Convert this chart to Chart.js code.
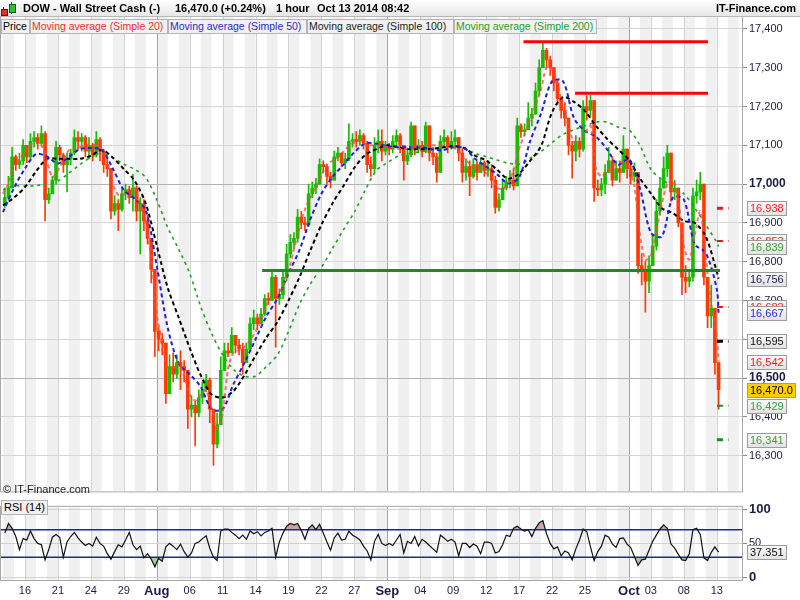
<!DOCTYPE html>
<html>
<head>
<meta charset="utf-8">
<title>DOW - Wall Street Cash</title>
<script src="https://cdn.jsdelivr.net/npm/chart.js@4.4.1/dist/chart.umd.min.js"></script>
<style>
html,body{margin:0;padding:0;background:#fff;}
body{width:800px;height:600px;position:relative;overflow:hidden;font-family:"Liberation Sans",Arial,sans-serif;}
canvas{position:absolute;left:0;}
#cMain{top:0;}
#cRsi{top:497px;}
.hdr{position:absolute;left:0;top:0;width:800px;height:16px;background:linear-gradient(#ffffff,#e6e6e6);border-bottom:1px solid #b8b8b8;z-index:2;}
.ht{position:absolute;top:2px;font-weight:bold;font-size:11px;color:#000;white-space:nowrap;line-height:13px;z-index:3;}
.lg{position:absolute;top:19px;height:15px;line-height:13px;font-size:10.5px;background:#f1f1f1;border:1px solid #b4b4b4;padding:0 1px;white-space:nowrap;z-index:2;box-sizing:border-box;overflow:hidden;}
.ic{position:absolute;z-index:3;}
.copy{position:absolute;left:3px;top:483px;font-size:11px;color:#222;z-index:2;white-space:nowrap;}
.rsil{position:absolute;left:1px;top:500px;height:15px;line-height:13px;font-size:11px;background:#f1f1f1;border:1px solid #b4b4b4;padding:0 2px;z-index:2;box-sizing:border-box;}
</style>
</head>
<body>
<div class="hdr"></div>
<div class="ic" style="left:3px;top:7px;width:1px;height:8px;background:#a00;"></div>
<div class="ic" style="left:1px;top:9px;width:5px;height:5px;background:#e03030;border:1px solid #900;"></div>
<div class="ic" style="left:11px;top:2px;width:1px;height:12px;background:#060;"></div>
<div class="ic" style="left:9px;top:4px;width:5px;height:7px;background:#30c030;border:1px solid #060;"></div>
<div class="ht" style="left:23px;">DOW - Wall Street Cash (-)</div>
<div class="ht" style="left:175px;">16,470.0 (+0.24%)</div>
<div class="ht" style="left:276px;">1 hour</div>
<div class="ht" style="left:317px;">Oct 13 2014 08:42</div>
<div class="ht" style="right:4px;">IT-Finance.com</div>

<div class="lg" style="left:1px;width:29px;color:#000;">Price</div>
<div class="lg" style="left:30px;width:138px;color:#ff2a2a;">Moving average (Simple 20)</div>
<div class="lg" style="left:168px;width:139px;color:#2a2ad0;">Moving average (Simple 50)</div>
<div class="lg" style="left:307px;width:147px;color:#222;">Moving average (Simple 100)</div>
<div class="lg" style="left:454px;width:143px;color:#1ea01e;">Moving average (Simple 200)</div>

<div class="copy">© IT-Finance.com</div>
<div class="rsil">RSI (14)</div>

<canvas id="cMain" width="800" height="500"></canvas>
<canvas id="cRsi" width="800" height="103"></canvas>

<script>
// ---------------- DATA ----------------
// trading days from Jul 14 2014 (day 0) to Oct 13 2014 (day 65)
const tickDays   = [2, 5, 8, 11, 14, 17, 20, 23, 26, 29, 32, 35, 38, 41, 44, 47, 50, 53, 57, 59, 62, 65];
const tickLabels = ['16','21','24','29','Aug','06','11','14','19','22','27','Sep','04','09','12','17','22','25','Oct','03','08','13'];
const monthTicks = ['Aug','Sep','Oct'];

const priceTicks = [16300,16400,16500,16600,16700,16800,16900,17000,17100,17200,17300,17400];
const boldPriceTicks = [16500, 17000];
const rsiTicks = [0, 50, 100];
const rsiLevels = [70, 30];

// price bars (three 8-hour bars per trading day), open = previous close
const firstOpen = 16950;
const closes = [
16965,16990,17070, 17050,17060,17100, 17070,17110,17120, 17105,17130,16960, 16975,17010,17095,
17075,17050,17065, 17080,17120,17110, 17120,17085,17100, 17075,17115,17085, 17050,17040,16930,
16950,16935,16975, 16985,16965,16990, 16930,16950,16905, 16860,16780,16620, 16600,16590,16460,
16530,16510,16540, 16530,16520,16420, 16430,16410,16450, 16470,16495,16420, 16330,16380,16520,
16570,16565,16610, 16585,16575,16540, 16575,16640,16655, 16640,16665,16705, 16700,16760,16705,
16715,16760,16820, 16850,16860,16915, 16900,16895,16975, 16990,17000,17050, 17045,17020,17010,
17070,17080,17055, 17065,17110,17115, 17110,17125,17105, 17050,17040,17100, 17110,17085,17095,
17090,17110,17125, 17100,17060,17075, 17150,17090,17100, 17085,17150,17080, 17070,17030,17110,
17120,17095,17110, 17120,17080,17030, 17045,17020,17050, 17030,17055,17035, 17040,17010,16940,
16960,16990,17005, 17010,16995,17150, 17135,17140,17170, 17180,17240,17300, 17345,17320,17300,
17260,17220,17190, 17170,17100,17085, 17110,17090,17200, 17190,17215,16990, 16985,17000,17030,
17060,17010,17040, 17030,17090,17040, 17020,17030,16790, 16780,16750,16790, 16840,16930,16990,
17040,17080,16980, 16990,16900,16760, 16750,16760,16970, 16980,17000,16760, 16660,16680,16540,
16470];
const highs = [
16990,17020,17095, 17075,17080,17115, 17090,17130,17135, 17130,17150,17135, 16990,17020,17110,
17100,17080,17080, 17090,17140,17135, 17130,17125,17120, 17105,17135,17120, 17090,17070,17040,
16970,16960,16990, 17000,16995,17025, 16995,16965,16960, 16920,16860,16780, 16630,16615,16590,
16560,16565,16560, 16570,16545,16520, 16455,16440,16470, 16490,16510,16500, 16410,16410,16555,
16590,16590,16630, 16610,16600,16590, 16590,16655,16675, 16665,16680,16715, 16720,16775,16765,
16730,16775,16845, 16870,16875,16935, 16930,16915,17000, 17005,17015,17065, 17060,17050,17030,
17085,17095,17080, 17080,17155,17130, 17135,17140,17130, 17110,17070,17120, 17140,17140,17110,
17105,17125,17140, 17130,17100,17090, 17160,17150,17115, 17110,17160,17120, 17095,17080,17125,
17140,17125,17135, 17140,17115,17090, 17065,17060,17065, 17060,17065,17060, 17060,17050,17020,
16975,17010,17020, 17035,17040,17170, 17155,17155,17210, 17195,17260,17320, 17368,17350,17330,
17300,17270,17225, 17210,17170,17110, 17125,17120,17215, 17228,17230,17190, 17010,17015,17050,
17095,17070,17060, 17060,17125,17090, 17060,17055,17030, 16820,16800,16815, 16870,16960,17015,
17070,17100,17080, 17010,16990,16900, 16790,16780,16990, 17010,17030,16990, 16725,16740,16680,
16495];
const lows = [
16940,16960,16990, 17035,17040,17050, 17055,17065,17095, 17090,17100,16905, 16950,16980,17000,
17060,17030,16980, 17050,17075,17090, 17085,17070,17065, 17060,17070,17060, 17030,17020,16910,
16920,16880,16930, 16960,16950,16930, 16905,16820,16880, 16845,16745,16555, 16570,16560,16435,
16480,16490,16500, 16470,16490,16370, 16400,16325,16400, 16435,16465,16385, 16275,16320,16380,
16550,16555,16570, 16565,16560,16510, 16540,16570,16625, 16625,16640,16660, 16690,16700,16580,
16690,16705,16750, 16810,16835,16850, 16885,16880,16890, 16965,16975,17000, 17030,17000,16990,
17010,17060,17045, 17040,17060,17095, 17095,17100,17090, 17030,17020,17030, 17080,17060,17075,
17075,17080,17095, 17080,17010,17050, 17070,17075,17080, 17070,17080,17060, 17050,17005,17030,
17095,17080,17090, 17090,17060,17005, 17010,16970,17015, 17010,17030,17020, 17020,16990,16925,
16930,16960,16985, 16990,16985,16995, 17120,17125,17140, 17150,17180,17230, 17300,17300,17280,
17240,17205,17170, 17150,17075,17015, 17060,17070,17085, 17165,17175,16955, 16970,16970,16975,
17040,16995,17010, 17005,17040,17015, 17000,17005,16770, 16740,16670,16720, 16800,16830,16920,
16990,17020,16955, 16960,16890,16715, 16720,16735,16750, 16950,16960,16740, 16630,16630,16510,
16420];

// RSI(14), one value per price bar
const rsi = [
65,79,72, 60,41,57, 55,68,57, 50,48,26, 41,59,63, 59,30,52, 60,66,58, 52,47,50, 46,59,50, 46,35,27,
38,48,45, 55,66,48, 41,46,29, 35,27,16, 28,24,45, 50,46,41, 49,38,30, 36,50,52, 57,61,43, 30,25,68,
71,71,66, 62,57,62, 56,68,64, 67,61,66, 68,72,30, 52,65,75, 79,77,79, 69,56,72, 77,70,78, 65,52,40,
58,65,55, 56,68,62, 59,55,46, 39,26,53, 63,50,47, 50,47,55, 63,36,53, 50,60,46, 56,52,47, 42,37,62,
58,53,56, 52,32,50, 50,44,49, 46,35,52, 52,50,36, 38,48,62, 60,72,75, 71,68,70, 60,72,80, 83,64,50,
42,45,32, 39,36,26, 42,55,71, 67,45,25, 38,46,62, 59,49,44, 57,58,49, 44,31,18, 26,27,40, 53,62,71,
77,72,49, 43,34,26, 25,35,70, 72,63,29, 25,37,45,
37.351];

// Moving averages: SMA20 read every half day, others at each day start; last value = current
const sma20 = [
16975,17000,17052,17064,17083,17100,17110,17100,17060,17018,
17035,17062,17087,17090,17095,17100,17100,17100,17090,17055,
17000,16972,16973,16988,16990,16942,16900,16810,16665,16595,
16525,16526,16538,16505,16458,16442,16457,16469,16420,16370,
16410,16525,16566,16572,16580,16597,16620,16647,16688,16710,
16714,16737,16778,16833,16885,16935,16965,16993,17022,17051,
17060,17070,17083,17099,17107,17114,17102,17100,17100,17098,
17095,17093,17091,17090,17093,17095,17098,17100,17100,17100,
17100,17100,17098,17083,17065,17053,17042,17035,17028,17021,
16990,16988,17002,17036,17090,17128,17166,17202,17245,17300,
17295,17256,17200,17150,17108,17102,17130,17150,17040,17020,
17033,17046,17055,17055,17040,16995,16870,16805,16815,16880,
16950,17000,17010,16960,16840,16805,16870,16930,16810,16690,
16610, 16542];
const sma50 = [
16928,16990,17040,17077,17071,17053,17070,17090,17093,17088,
17040,16985,16962,16933,16790,16630,16538,16510,16478,16420,
16420,16485,16540,16600,16660,16705,16770,16830,16910,16975,
17018,17050,17082,17105,17104,17098,17095,17095,17095,17090,
17087,17095,17093,17065,17045,17025,17002,17017,17110,17182,
17265,17265,17170,17137,17122,17090,17050,17065,16990,16875,
16865,16965,16960,16845,16823,16730, 16667];
const sma100 = [
16945,16965,16992,17032,17065,17065,17065,17065,17073,17088,
17068,17039,17008,16950,16842,16733,16656,16578,16508,16458,
16450,16467,16508,16558,16605,16645,16700,16760,16830,16895,
16950,16995,17042,17075,17090,17100,17095,17090,17090,17091,
17094,17098,17093,17073,17061,17037,17014,17027,17060,17098,
17185,17224,17212,17188,17150,17117,17090,17062,17015,16976,
16938,16925,16905,16900,16865,16775, 16756];
const sma200 = [
16985,16995,16995,16996,17001,17008,17028,17050,17069,17079,
17068,17051,17038,17017,16960,16888,16832,16770,16685,16615,
16560,16522,16505,16505,16530,16560,16620,16690,16743,16785,
16834,16882,16928,16985,17035,17055,17072,17079,17083,17088,
17095,17095,17092,17079,17071,17062,17054,17051,17066,17084,
17107,17128,17140,17150,17160,17160,17147,17140,17100,17038,
17012,16994,16975,16938,16895,16850, 16839];

// drawn horizontal lines (value, start day, end day)
const hLineValues = [17367, 17234, 16777];
const hLineStart  = [47.4, 52.1, 23.6];
const hLineEnd    = [64.2, 64.2, 65.3];

// level markers at the right end and price-axis label boxes
const markerValues = [16938, 16853, 16683, 16595, 16429, 16341];
const sideLabelValues = [16938, 16853, 16839, 16756, 16683, 16667, 16595, 16542, 16429, 16341];
const lastPrice = 16470.0;
const lastRsi = 37.351;

// ---------------- STYLE ----------------
const GREEN = '#16be00', RED = '#ff3a00';
const FONT = '"Liberation Sans", Arial, sans-serif';
const markerColors = ['#ff1010','#ff1010','#ff1010','#000000','#189018','#189018'];
const markerWidths = [3,2,2,3,2,3];
const sideLabelColors = ['#ff1a1a','#ff1a1a','#38a038','#1c1c48','#ff1a1a','#2a2ae0','#111111','#ff1a1a','#38a038','#38a038'];
const hLineColors = ['#ff0000','#ff0000','#1f8a1f'];

const barX = i => Math.floor(i / 3) + ((i % 3) + 0.5) / 3;
const lastX = barX(closes.length - 1);
const xMin = -0.18, xMax = 67.3;

const opens = closes.map((c, i) => i === 0 ? firstOpen : closes[i - 1]);
const isUp = closes.map((c, i) => c >= opens[i]);
const wickData = closes.map((c, i) => ({x: barX(i), y: [Math.min(lows[i], opens[i], c), Math.max(highs[i], opens[i], c)]}));
const bodyData = closes.map((c, i) => ({x: barX(i), y: [opens[i], c]}));

const halfDaySeries = arr => arr.map((v, k) => ({x: k === arr.length - 1 ? lastX : k * 0.5, y: v}));
const daySeries = arr => arr.map((v, k) => ({x: k === arr.length - 1 ? lastX : k, y: v}));

const fmt = v => v.toLocaleString('en-US');

function drawBackground(chart) {
  const {ctx, chartArea: a, scales: {x}} = chart;
  ctx.save();
  ctx.fillStyle = '#ffffff';
  ctx.fillRect(0, 0, chart.width, chart.height);
  ctx.beginPath(); ctx.rect(a.left, a.top, a.right - a.left, a.bottom - a.top); ctx.clip();
  ctx.fillStyle = '#f0f0f0';
  for (let d = 0; d < 70; d += 2) {
    const p0 = x.getPixelForValue(d), p1 = x.getPixelForValue(d + 1);
    ctx.fillRect(p0, a.top, p1 - p0, a.bottom - a.top);
  }
  tickDays.forEach((d, i) => {
    const px = Math.round(x.getPixelForValue(d)) + 0.5;
    ctx.strokeStyle = monthTicks.includes(tickLabels[i]) ? '#a6a6a6' : '#d2d2d2';
    ctx.lineWidth = 1;
    ctx.beginPath(); ctx.moveTo(px, a.top); ctx.lineTo(px, a.bottom); ctx.stroke();
  });
  ctx.restore();
}
function drawFrame(chart) {
  const {ctx, chartArea: a} = chart;
  ctx.save();
  ctx.strokeStyle = '#a8a8a8'; ctx.lineWidth = 1;
  ctx.strokeRect(a.left - 0.5, a.top - 0.5, a.right - a.left + 1, a.bottom - a.top + 1);
  ctx.restore();
}
function drawBox(ctx, text, yc, color, fill) {
  ctx.font = '11px ' + FONT;
  const w = Math.ceil(ctx.measureText(text).width) + 5;
  const x0 = 747.5, h = 14, y0 = Math.round(yc - h / 2) + 0.5;
  if (fill) { ctx.fillStyle = fill; }
  else { const g = ctx.createLinearGradient(0, y0, 0, y0 + h); g.addColorStop(0, '#fafafa'); g.addColorStop(1, '#e2e2e2'); ctx.fillStyle = g; }
  ctx.fillRect(x0, y0, w, h);
  ctx.strokeStyle = '#9c9c9c'; ctx.lineWidth = 1;
  ctx.strokeRect(x0, y0, w, h);
  ctx.fillStyle = color; ctx.textBaseline = 'middle'; ctx.textAlign = 'left';
  ctx.fillText(text, x0 + 2.5, y0 + h / 2 + 0.5);
}

const bgPlugin = {id: 'bg', beforeDraw: drawBackground, afterDatasetsDraw: drawFrame};

const mainLabels = {
  id: 'mainLabels',
  afterDraw(chart) {
    const {ctx, scales: {y}} = chart;
    ctx.save();
    const items = sideLabelValues.map((v, i) => ({v, t: fmt(v), c: sideLabelColors[i], f: null}));
    items.push({v: lastPrice, t: lastPrice.toLocaleString('en-US', {minimumFractionDigits: 1}), c: '#000', f: '#ffcc00'});
    items.sort((a, b) => b.v - a.v);
    items.forEach(it => drawBox(ctx, it.t, y.getPixelForValue(it.v), it.c, it.f));
    ctx.restore();
  }
};

const datasetsMain = [];
// MA lines
[[sma20, 'rgba(255,70,70,0.75)', [4, 3], 2, halfDaySeries],
 [sma50, '#1e1ee6', [4, 3], 2, daySeries],
 [sma100, '#000000', [4, 3], 2, daySeries],
 [sma200, '#20a020', [3, 4], 1.6, daySeries]].forEach(([arr, col, dash, w, fn]) => {
  datasetsMain.push({type: 'line', data: fn(arr), borderColor: col, borderWidth: w, borderDash: dash,
    pointRadius: 0, tension: 0.3, fill: false, order: 2});
});
// horizontal drawn lines
hLineValues.forEach((v, i) => {
  datasetsMain.push({type: 'line', data: [{x: hLineStart[i], y: v}, {x: hLineEnd[i], y: v}],
    borderColor: hLineColors[i], borderWidth: 3, pointRadius: 0, fill: false, order: 1});
});
// level markers
markerValues.forEach((v, i) => {
  datasetsMain.push({type: 'line', data: [{x: lastX - 0.15, y: v}, {x: lastX + 0.9, y: v}],
    borderColor: markerColors[i], borderWidth: markerWidths[i], borderDash: [6, 5], pointRadius: 0, fill: false, order: 1});
});
// candles
datasetsMain.push({type: 'bar', data: wickData, backgroundColor: c => isUp[c.dataIndex] ? GREEN : RED,
  barThickness: 1, grouped: false, order: 10, minBarLength: 1});
datasetsMain.push({type: 'bar', data: bodyData, backgroundColor: c => isUp[c.dataIndex] ? GREEN : RED,
  barThickness: 3, grouped: false, order: 9, minBarLength: 1});

new Chart(document.getElementById('cMain'), {
  type: 'bar',
  data: {datasets: datasetsMain},
  options: {
    responsive: false, animation: false, devicePixelRatio: 1,
    layout: {padding: {left: 1, top: 17, right: 0, bottom: 4}},
    plugins: {legend: {display: false}, tooltip: {enabled: false}},
    scales: {
      x: {type: 'linear', min: xMin, max: xMax, display: false, offset: false},
      y: {
        position: 'right', min: 16208, max: 17430.6,
        afterBuildTicks: s => { s.ticks = priceTicks.map(v => ({value: v})); },
        afterFit: s => { s.width = 58; },
        ticks: {
          padding: 2, color: '#1c1c48',
          font: c => boldPriceTicks.includes(c.tick && c.tick.value) ? {family: FONT, size: 12, weight: 'bold'} : {family: FONT, size: 11},
          callback: v => fmt(v)
        },
        grid: {color: c => boldPriceTicks.includes(c.tick && c.tick.value) ? '#b4b4b4' : '#d6d6d6', tickLength: 5, tickColor: '#8a8a8a'},
        border: {display: true, color: '#a0a0a0'}
      }
    }
  },
  plugins: [bgPlugin, mainLabels]
});

// ---------------- RSI ----------------
const rsiData = rsi.map((v, i) => ({x: barX(i), y: v}));
const rsiLabels = {
  id: 'rsiLabels',
  afterDraw(chart) {
    const {ctx, scales: {y}} = chart;
    ctx.save();
    drawBox(ctx, lastRsi.toFixed(3), y.getPixelForValue(lastRsi), '#111', null);
    ctx.restore();
  }
};
const datasetsRsi = [
  {type: 'line', data: rsiData, borderWidth: 0, borderColor: 'rgba(0,0,0,0)', pointRadius: 0,
   fill: {target: {value: rsiLevels[0]}, above: 'rgba(175,110,110,0.6)', below: 'rgba(0,0,0,0)'}, order: 5},
  {type: 'line', data: rsiData, borderWidth: 0, borderColor: 'rgba(0,0,0,0)', pointRadius: 0,
   fill: {target: {value: rsiLevels[1]}, above: 'rgba(0,0,0,0)', below: 'rgba(100,170,100,0.6)'}, order: 5}
];
rsiLevels.forEach(v => datasetsRsi.push({type: 'line', data: [{x: xMin, y: v}, {x: xMax, y: v}],
  borderColor: '#2424a0', borderWidth: 1.5, pointRadius: 0, fill: false, order: 3}));
datasetsRsi.push({type: 'line', data: rsiData, borderColor: '#111', borderWidth: 1.2, pointRadius: 0, fill: false, order: 1});

new Chart(document.getElementById('cRsi'), {
  type: 'line',
  data: {datasets: datasetsRsi},
  options: {
    responsive: false, animation: false, devicePixelRatio: 1,
    layout: {padding: {left: 1, top: 3, right: 0, bottom: 0}},
    plugins: {legend: {display: false}, tooltip: {enabled: false}},
    scales: {
      x: {
        type: 'linear', min: xMin, max: xMax, position: 'bottom', offset: false,
        afterBuildTicks: s => { s.ticks = tickDays.map(v => ({value: v})); },
        afterFit: s => { s.height = 20; },
        grid: {display: false, drawTicks: false}, border: {display: false},
        ticks: {
          autoSkip: false, maxRotation: 0, minRotation: 0, padding: 4, color: '#1c1c48',
          font: c => monthTicks.includes(tickLabels[c.index]) ? {family: FONT, size: 13, weight: 'bold'} : {family: FONT, size: 11},
          callback: (v, i) => tickLabels[i]
        }
      },
      y: {
        position: 'right', min: -3.3, max: 103.3,
        afterBuildTicks: s => { s.ticks = rsiTicks.map(v => ({value: v})); },
        afterFit: s => { s.width = 58; },
        ticks: {
          padding: 2, color: '#1c1c48',
          font: c => (c.tick && c.tick.value === 50) ? {family: FONT, size: 11} : {family: FONT, size: 13, weight: 'bold'}
        },
        grid: {color: '#d2d2d2', tickLength: 5, tickColor: '#8a8a8a'},
        border: {display: true, color: '#a0a0a0'}
      }
    }
  },
  plugins: [bgPlugin, rsiLabels]
});
</script>
</body>
</html>
